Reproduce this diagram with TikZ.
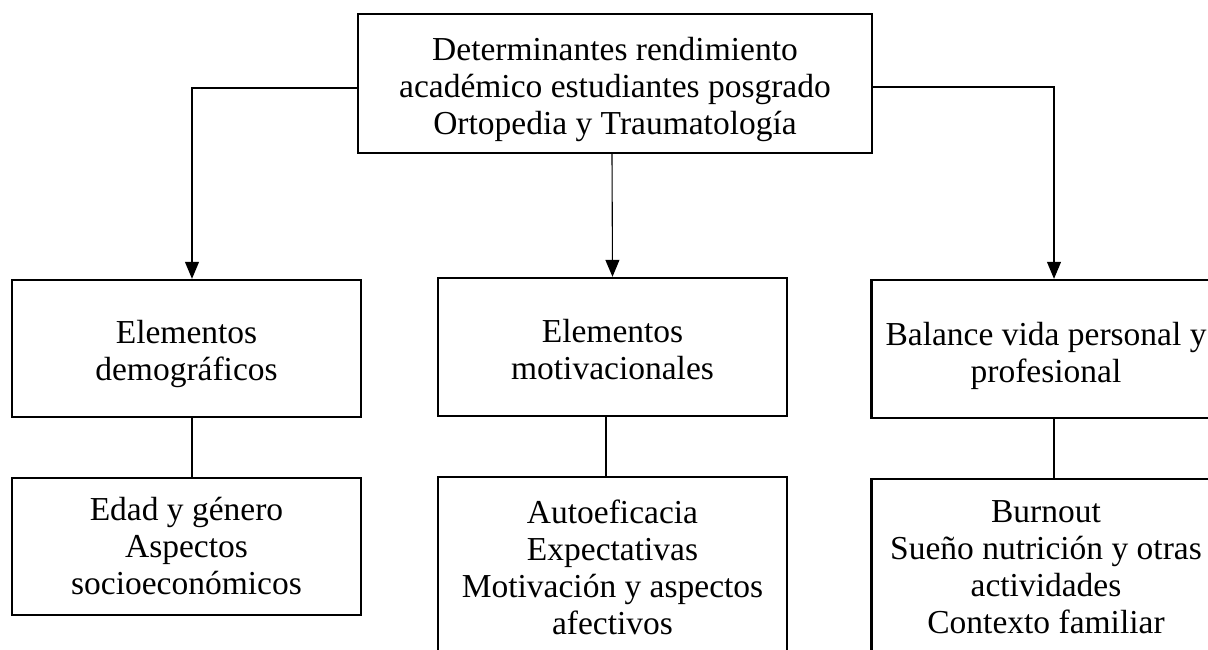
\documentclass[tikz,border=0pt]{standalone}
\usepackage{fontspec}
\setmainfont{Liberation Serif}
\usetikzlibrary{arrows.meta}
\newcommand{\tstrut}[1]{\rule{0pt}{#1}}
\begin{document}
\begin{tikzpicture}[x=1bp,y=-1bp,
  box/.style={draw, line width=2.4bp, align=center, inner sep=0pt,
    font=\fontsize{33.5bp}{37bp}\selectfont, minimum width=349bp},
  conn/.style={line width=1.1bp},
  arr/.style={conn, -{Triangle[width=14bp,length=17bp]}}]
\useasboundingbox (0,0) rectangle (1208,650);
\clip (0,0) rectangle (1208,650);
% top box
\node[box, minimum width=514bp, minimum height=139bp] (top) at (615,83.5)
  {\tstrut{35bp}Determinantes rendimiento\\académico estudiantes posgrado\\Ortopedia y Traumatología};
% second row
\node[box, minimum height=137bp] (L) at (186.5,348.5) {\tstrut{35bp}Elementos\\demográficos};
\node[box, minimum height=138bp] (M) at (612.5,347) {\tstrut{29bp}Elementos\\motivacionales};
\node[box, minimum height=138bp] (R) at (1046,349) {\tstrut{37bp}Balance vida personal y\\profesional};
% third row
\node[box, minimum height=137bp] (LL) at (186.5,546.5) {Edad y género\\Aspectos\\socioeconómicos};
\node[box, anchor=north] (MM) at (612.5,476)
  {\parbox[t][220bp][t]{349bp}{\centering\tstrut{46bp}Autoeficacia\\Expectativas\\Motivación y aspectos\\afectivos}};
\node[box, anchor=north] (RR) at (1046,478)
  {\parbox[t][220bp][t]{349bp}{\centering\tstrut{43bp}Burnout\\Sueño nutrición y otras\\actividades\\Contexto familiar}};
% connectors
\draw[arr] ([yshift=-4.5bp]top.west) -| ([xshift=5.5bp]L.north);
\draw[arr] ([yshift=-3.5bp]top.east) -| ([xshift=8bp]R.north);
\draw[arr] ([xshift=-3bp]top.south) -- (M.north);
\draw[conn] ([xshift=5.5bp]L.south) -- ([xshift=5.5bp]LL.north);
\draw[conn] ([xshift=-6.5bp]M.south) -- ([xshift=-6.5bp]MM.north);
\draw[conn] ([xshift=8bp]R.south) -- ([xshift=8bp]RR.north);
\end{tikzpicture}
\end{document}
